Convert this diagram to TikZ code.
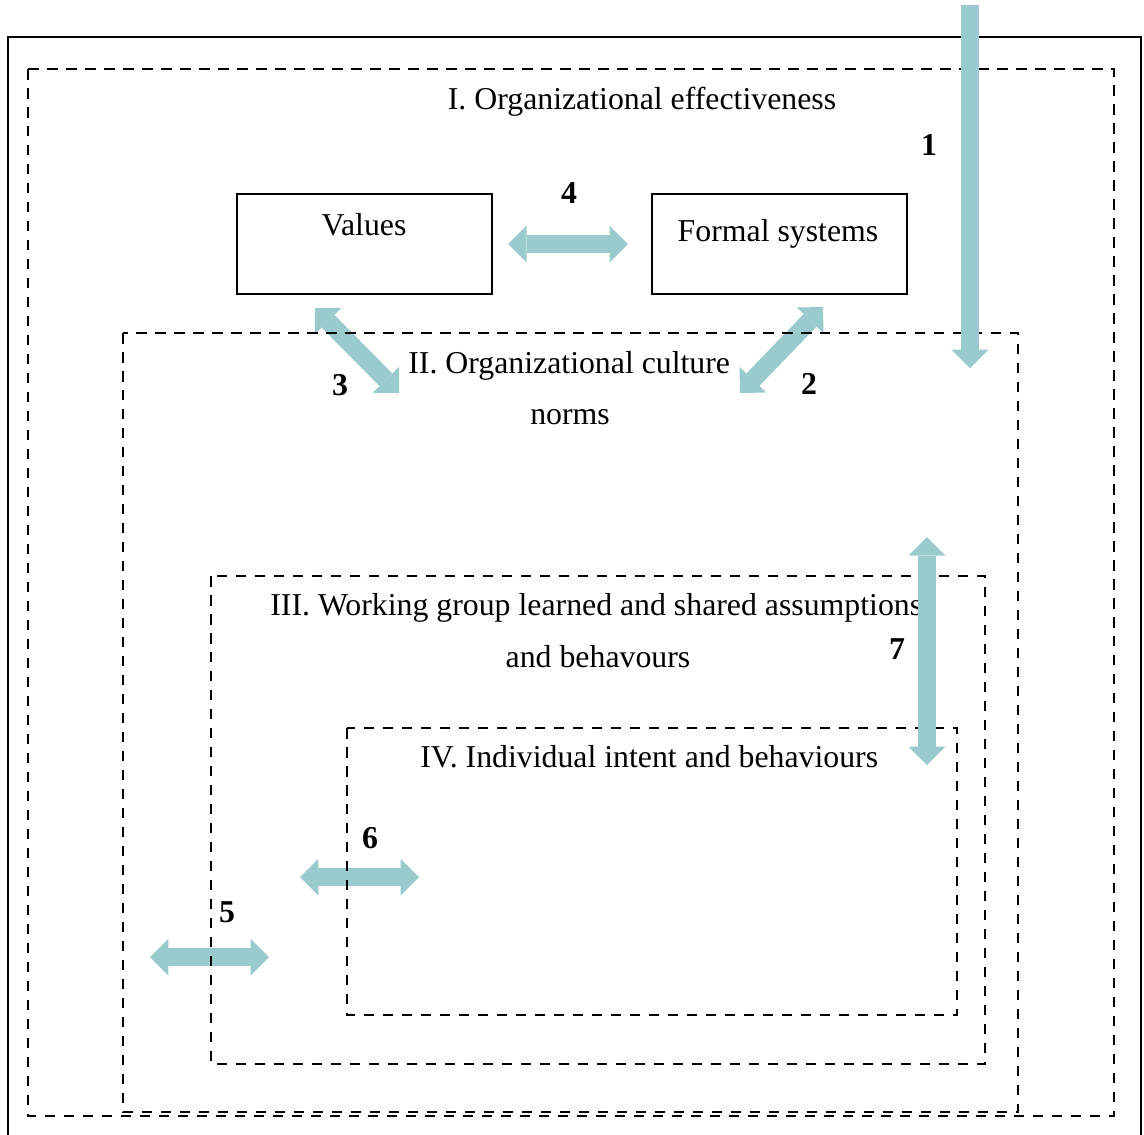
\documentclass[tikz,border=0pt]{standalone}
\usepackage{fontspec}
\setmainfont{Liberation Serif}
\usetikzlibrary{arrows.meta,positioning}
\definecolor{flow}{RGB}{153,202,205}

\begin{document}
\begin{tikzpicture}[x=0.02cm,y=-0.02cm,font=\fontsize{18.1}{21.7}\selectfont,
  zone/.style={draw,line width=1.6pt,dash pattern=on 0.21cm off 0.17cm},
  sysbox/.style={draw,line width=1.2pt,minimum width=5.1cm,minimum height=2cm,inner sep=0pt},
  title/.style={anchor=base,inner sep=0pt},
  num/.style={anchor=base,inner sep=0pt,font=\fontsize{18.1}{21.7}\selectfont\bfseries},
  flow/.style={draw=flow,line width=0.36cm,line cap=butt},
  both/.style={flow,{Triangle[length=0.37cm,width=0.74cm,line width=0pt]}-{Triangle[length=0.37cm,width=0.74cm,line width=0pt]}},
  one/.style={flow,-{Triangle[length=0.37cm,width=0.74cm,line width=0pt]}}]

  \clip (0,0) rectangle (1144,1134);

  % ends of the flows
  \coordinate (in1) at (970,5);
  \coordinate (out1) at (970,368);
  \coordinate (v3a) at (315,308);
  \coordinate (v3b) at (399,393);
  \coordinate (f2a) at (823,307);
  \coordinate (f2b) at (740,393);
  \coordinate (g7a) at (927,537);
  \coordinate (g7b) at (927,765);
  \coordinate (i6a) at (300,877);
  \coordinate (i6b) at (419,877);
  \coordinate (w5a) at (150,957);
  \coordinate (w5b) at (269,957);

  \draw[both] (v3a) -- (v3b);
  \draw[both] (f2a) -- (f2b);
  \draw[both] (i6a) -- (i6b);
  \draw[both] (w5a) -- (w5b);

  % frame and levels
  \draw[line width=1.6pt] (8,37) rectangle (1141,1160);
  \draw[zone] (28,69) rectangle (1114,1116);
  \draw[zone] (123,333) rectangle (1018,1112);
  \draw[zone] (211,576) rectangle (985,1064);
  \draw[zone] (347,728) rectangle (957,1015);

  \node[title] (lvl1) at (642,109) {I. Organizational effectiveness};
  \node[title,anchor=base west] (lvl2) at (408,373) {II. Organizational culture};
  \node[title] (lvl2b) at (570,424) {norms};
  \node[title,anchor=base west] (lvl3) at (270,615) {III. Working group learned and shared assumptions};
  \node[title] (lvl3b) at (598,667) {and behavours};
  \node[title,anchor=base west] (lvl4) at (420,767) {IV. Individual intent and behaviours};

  \node[sysbox] (values) at (364.5,244) {};
  \node[sysbox] (formal) [right=3.16cm of values] {};
  \node[title] (valtxt) at (364,235) {Values};
  \node[title] (formtxt) at (778,241) {Formal systems};

  \draw[both] (values) -- (formal)
    [shorten <=0.3cm,shorten >=0.46cm];
  \draw[one] (in1) -- (out1);
  \draw[both] (g7a) -- (g7b);

  \node[num] (n1) at (929,155) {1};
  \node[num] (n2) at (809,394) {2};
  \node[num] (n3) at (340,395) {3};
  \node[num] (n4) at (569,203) {4};
  \node[num] (n5) at (227,922) {5};
  \node[num] (n6) at (370,848) {6};
  \node[num] (n7) at (897,659) {7};

\end{tikzpicture}
\end{document}
